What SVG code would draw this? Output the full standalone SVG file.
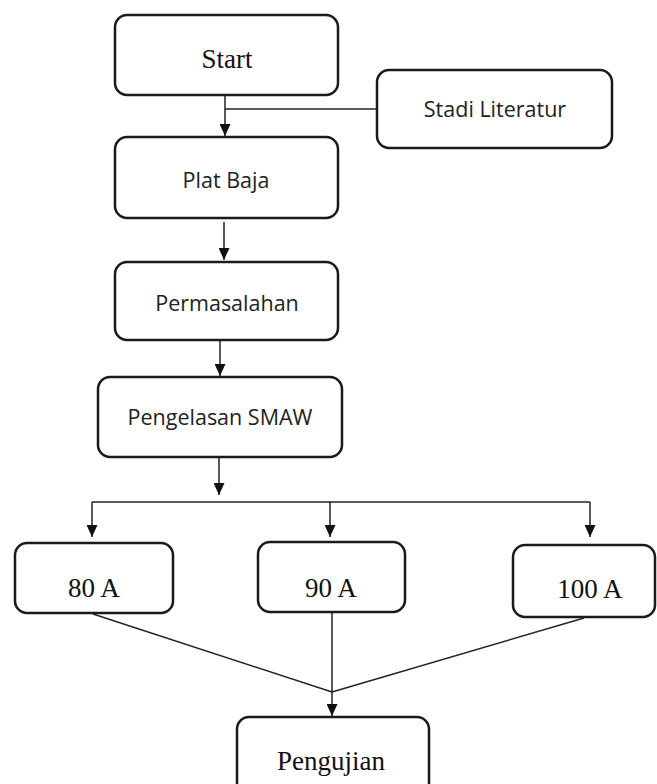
<svg xmlns="http://www.w3.org/2000/svg" width="657" height="784" viewBox="0 0 657 784">
<style>
.box{fill:#fff;stroke:#1a1a1a;stroke-width:2.5}
.sans{font-family:"Open Sans","Noto Sans",sans-serif;font-size:21.5px;fill:#222;text-anchor:middle}
.serif{font-family:"Liberation Serif","Times New Roman",serif;font-size:27px;fill:#111;text-anchor:middle}
.c{fill:none;stroke:#222;stroke-width:1.5}
</style>
<defs>
<marker id="ah" viewBox="0 0 12 11" markerWidth="12" markerHeight="11" refX="12" refY="5.5" orient="auto" markerUnits="userSpaceOnUse">
<path d="M0,0 L12,5.5 L0,11 z" fill="#111"/>
</marker>
</defs>
<rect width="657" height="784" fill="#fff"/>
<g id="connectors">
<line class="c" x1="225" y1="95" x2="225" y2="136" marker-end="url(#ah)"/>
<line class="c" x1="377" y1="109" x2="225" y2="109"/>
<line class="c" x1="224" y1="222" x2="224" y2="260" marker-end="url(#ah)"/>
<line class="c" x1="220" y1="340" x2="220" y2="376" marker-end="url(#ah)"/>
<line class="c" x1="219" y1="457" x2="219" y2="495" marker-end="url(#ah)"/>
<line class="c" x1="92" y1="502" x2="590" y2="502"/>
<line class="c" x1="92" y1="502" x2="92" y2="537" marker-end="url(#ah)"/>
<line class="c" x1="330" y1="502" x2="330" y2="537" marker-end="url(#ah)"/>
<line class="c" x1="590" y1="502" x2="590" y2="537" marker-end="url(#ah)"/>
<line class="c" x1="93" y1="614" x2="332" y2="692"/>
<line class="c" x1="584" y1="618" x2="332" y2="692"/>
<line class="c" x1="332" y1="612" x2="332" y2="716" marker-end="url(#ah)"/>
</g>
<g id="start"><rect class="box" x="115" y="15" width="223" height="80" rx="12"/><text class="serif" x="227" y="68">Start</text></g>
<g id="stadi"><rect class="box" x="377" y="70" width="235" height="78" rx="12"/><text class="sans" x="495" y="117">Stadi Literatur</text></g>
<g id="plat"><rect class="box" x="115" y="137" width="223" height="81" rx="12"/><text class="sans" x="226" y="188">Plat Baja</text></g>
<g id="permasalahan"><rect class="box" x="115" y="262" width="223" height="78" rx="12"/><text class="sans" x="227" y="311">Permasalahan</text></g>
<g id="pengelasan"><rect class="box" x="98" y="377" width="244" height="80" rx="12"/><text class="sans" x="220" y="425">Pengelasan SMAW</text></g>
<g id="a80"><rect class="box" x="15" y="543" width="158" height="70" rx="12"/><text class="serif" x="94" y="597">80 A</text></g>
<g id="a90"><rect class="box" x="258" y="542" width="147" height="70" rx="12"/><text class="serif" x="331" y="597">90 A</text></g>
<g id="a100"><rect class="box" x="513" y="545" width="142" height="72" rx="12"/><text class="serif" x="590" y="598">100 A</text></g>
<g id="pengujian"><rect class="box" x="237" y="717" width="192" height="82" rx="12"/><text class="serif" x="331" y="770">Pengujian</text></g>
</svg>
